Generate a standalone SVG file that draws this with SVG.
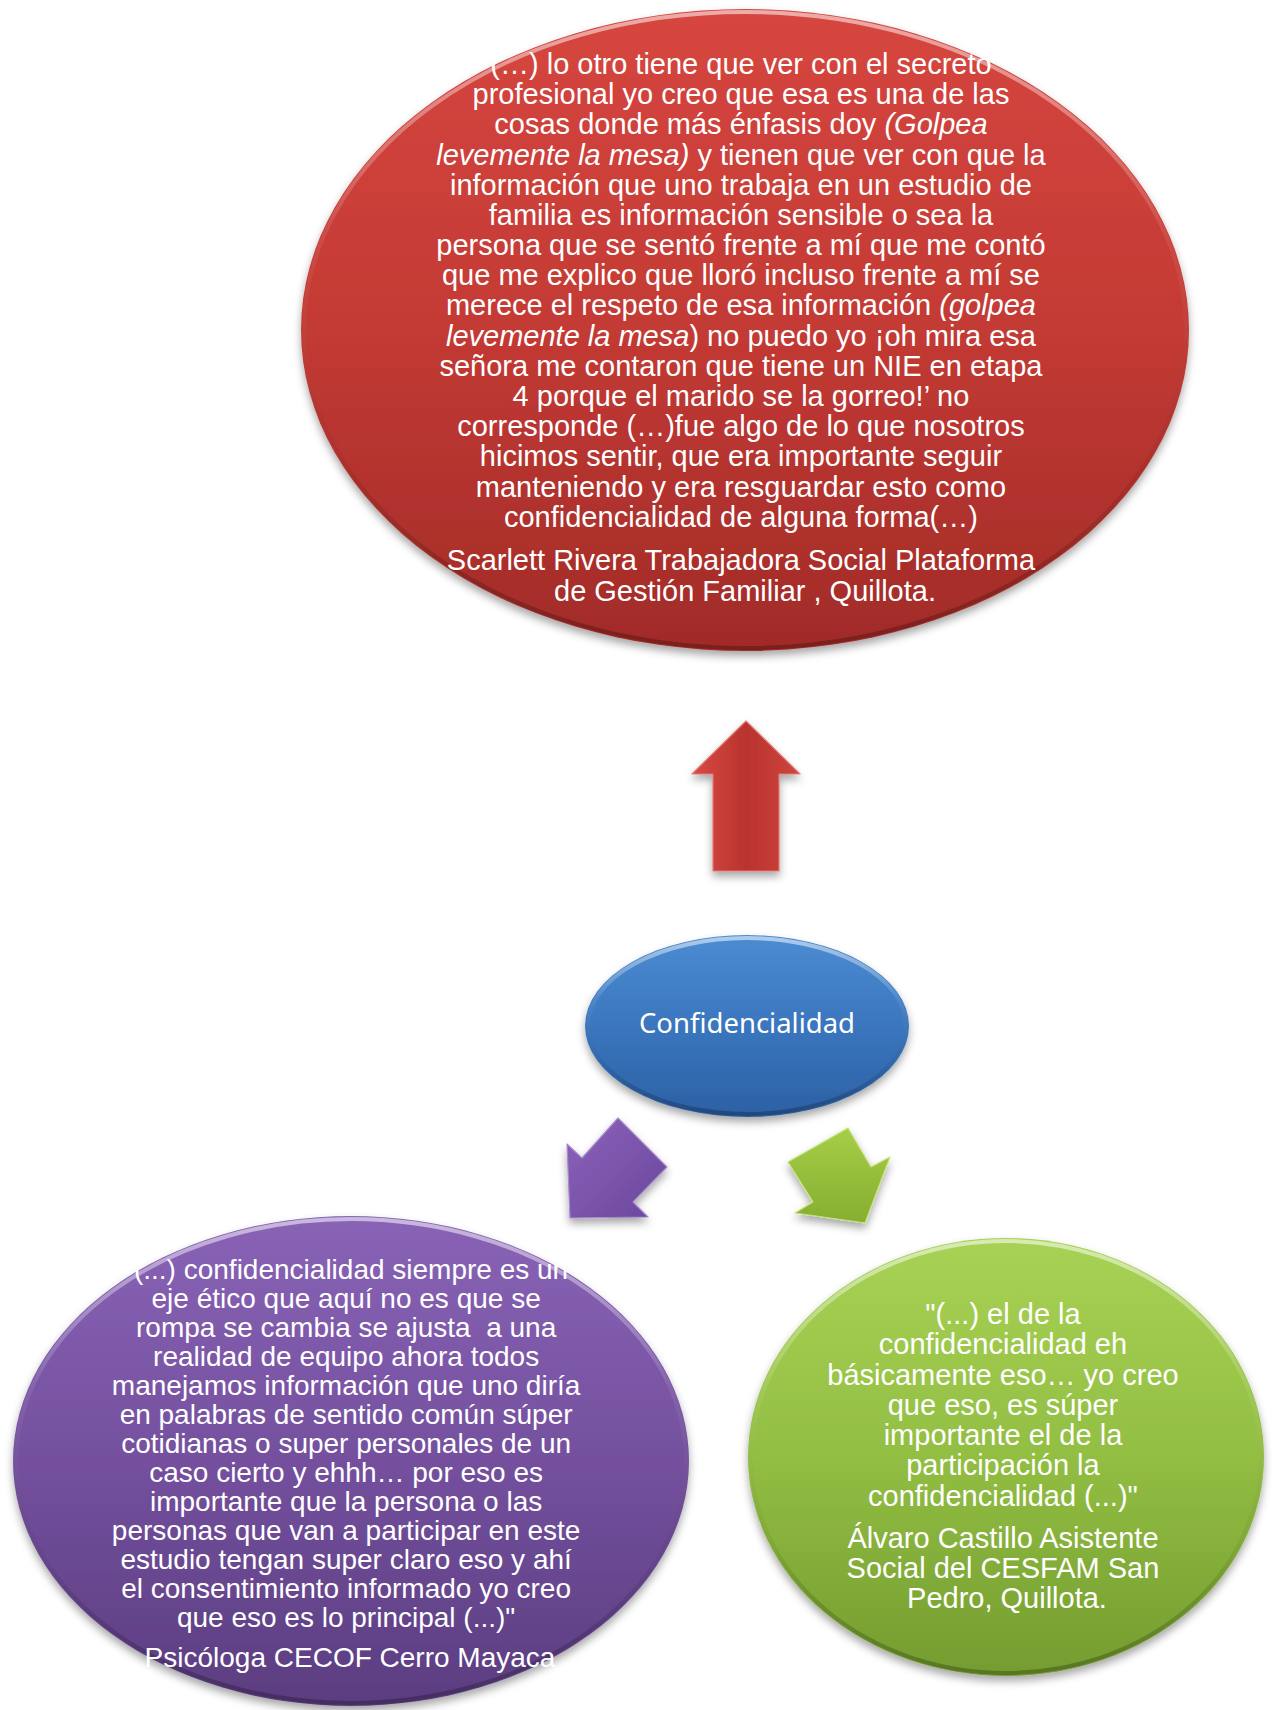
<svg xmlns="http://www.w3.org/2000/svg" width="1277" height="1710" viewBox="0 0 1277 1710">
<defs>
<style>
.t{font-family:"Liberation Sans",Arial,sans-serif;fill:#fff;text-anchor:middle;}
.r{font-size:29px;}
.p{font-size:28px;}
.g{font-size:29px;}
.i{font-style:italic;}
.c{font-family:"Noto Sans","Open Sans",sans-serif;font-size:28px;fill:#fff;text-anchor:middle;}
.rim{fill:none;stroke:url(#rimG);stroke-width:4;}
.arr{stroke-width:1.2;stroke-linejoin:round;}
</style>
<filter id="sh" x="-10%" y="-10%" width="120%" height="125%">
<feDropShadow dx="0" dy="5" stdDeviation="4" flood-color="#000" flood-opacity="0.35"/>
</filter>
<linearGradient id="redG" x1="0" y1="0" x2="0" y2="1">
<stop offset="0" stop-color="#D6463F"/><stop offset="0.5" stop-color="#C33A34"/><stop offset="1" stop-color="#A12B28"/>
</linearGradient>
<linearGradient id="blueG" x1="0" y1="0" x2="0" y2="1">
<stop offset="0" stop-color="#4B8CD2"/><stop offset="0.5" stop-color="#3A76BE"/><stop offset="1" stop-color="#2C60A4"/>
</linearGradient>
<linearGradient id="purG" x1="0" y1="0" x2="0" y2="1">
<stop offset="0" stop-color="#8963B6"/><stop offset="0.5" stop-color="#74509E"/><stop offset="1" stop-color="#5B3D80"/>
</linearGradient>
<linearGradient id="grnG" x1="0" y1="0" x2="0" y2="1">
<stop offset="0" stop-color="#A8D255"/><stop offset="0.5" stop-color="#92BE43"/><stop offset="1" stop-color="#749C2F"/>
</linearGradient>
<linearGradient id="rimG" x1="0" y1="0" x2="0" y2="1">
<stop offset="0" stop-color="#fff" stop-opacity="0.55"/><stop offset="0.35" stop-color="#fff" stop-opacity="0.08"/><stop offset="0.7" stop-color="#000" stop-opacity="0.05"/><stop offset="1" stop-color="#000" stop-opacity="0.25"/>
</linearGradient>
<linearGradient id="redA" x1="0" y1="0" x2="1" y2="0">
<stop offset="0" stop-color="#D84A42"/><stop offset="0.5" stop-color="#B9332F"/><stop offset="1" stop-color="#D0443E"/>
</linearGradient>
<linearGradient id="purA" x1="0" y1="0" x2="1" y2="1">
<stop offset="0" stop-color="#8C62BC"/><stop offset="1" stop-color="#6A479A"/>
</linearGradient>
<linearGradient id="grnA" x1="0" y1="0" x2="0" y2="1">
<stop offset="0" stop-color="#A6CE48"/><stop offset="1" stop-color="#86AE30"/>
</linearGradient>
</defs>
<rect width="1277" height="1710" fill="#fff"/>

<g id="connectors">
<polygon class="arr" filter="url(#sh)" fill="url(#redA)" stroke="#E07A72" points="746,721 800,774 779,774 779,871 713,871 713,774 692,774"/>
<polygon class="arr" filter="url(#sh)" fill="url(#purA)" stroke="#A88BD0" points="618,1118 667,1167 633,1202 648,1217 570,1218 567,1144 582,1158"/>
<polygon class="arr" filter="url(#sh)" fill="url(#grnA)" stroke="#C7E27F" points="848,1128 871,1167 890,1157 865,1223 795,1213 813,1202 788,1162"/>
</g>

<g id="node-red">
<ellipse cx="745" cy="330" rx="444" ry="321" fill="url(#redG)" filter="url(#sh)"/>
<ellipse class="rim" cx="745" cy="330" rx="441" ry="318"/>
<text class="t r" x="745">
<tspan x="745" y="74">(…) lo otro tiene que ver con el secreto</tspan>
<tspan x="745" y="104">profesional yo creo que esa es una de las</tspan>
<tspan x="745" y="134">cosas donde más énfasis doy <tspan class="i">(Golpea</tspan></tspan>
<tspan x="745" y="165"><tspan class="i">levemente la mesa)</tspan> y tienen que ver con que la</tspan>
<tspan x="745" y="195">información que uno trabaja en un estudio de</tspan>
<tspan x="745" y="225">familia es información sensible o sea la</tspan>
<tspan x="745" y="255">persona que se sentó frente a mí que me contó</tspan>
<tspan x="745" y="285">que me explico que lloró incluso frente a mí se</tspan>
<tspan x="745" y="315">merece el respeto de esa información <tspan class="i">(golpea</tspan></tspan>
<tspan x="745" y="346"><tspan class="i">levemente la mesa</tspan>) no puedo yo ¡oh mira esa</tspan>
<tspan x="745" y="376">señora me contaron que tiene un NIE en etapa</tspan>
<tspan x="745" y="406">4 porque el marido se la gorreo!’ no</tspan>
<tspan x="745" y="436">corresponde (…)fue algo de lo que nosotros</tspan>
<tspan x="745" y="466">hicimos sentir, que era importante seguir</tspan>
<tspan x="745" y="497">manteniendo y era resguardar esto como</tspan>
<tspan x="745" y="527">confidencialidad de alguna forma(…)</tspan>
<tspan x="745" y="570">Scarlett Rivera Trabajadora Social Plataforma</tspan>
<tspan x="745" y="601">de Gestión Familiar , Quillota.</tspan>
</text>
</g>

<g id="node-center">
<ellipse cx="747" cy="1026" rx="162" ry="91" fill="url(#blueG)" filter="url(#sh)"/>
<ellipse class="rim" cx="747" cy="1026" rx="159" ry="88"/>
<text class="c" x="747" y="1033" textLength="216" lengthAdjust="spacingAndGlyphs">Confidencialidad</text>
</g>

<g id="node-purple">
<ellipse cx="351" cy="1461" rx="338" ry="245" fill="url(#purG)" filter="url(#sh)"/>
<ellipse class="rim" cx="351" cy="1461" rx="335" ry="242"/>
<text class="t p" x="350">
<tspan x="350" y="1279">"(...) confidencialidad siempre es un</tspan>
<tspan x="350" y="1308">eje ético que aquí no es que se</tspan>
<tspan x="350" y="1337" xml:space="preserve">rompa se cambia se ajusta  a una</tspan>
<tspan x="350" y="1366">realidad de equipo ahora todos</tspan>
<tspan x="350" y="1395">manejamos información que uno diría</tspan>
<tspan x="350" y="1424">en palabras de sentido común súper</tspan>
<tspan x="350" y="1453">cotidianas o super personales de un</tspan>
<tspan x="350" y="1482">caso cierto y ehhh… por eso es</tspan>
<tspan x="350" y="1511">importante que la persona o las</tspan>
<tspan x="350" y="1540">personas que van a participar en este</tspan>
<tspan x="350" y="1569">estudio tengan super claro eso y ahí</tspan>
<tspan x="350" y="1598">el consentimiento informado yo creo</tspan>
<tspan x="350" y="1627">que eso es lo principal (...)"</tspan>
<tspan x="350" y="1667">Psicóloga CECOF Cerro Mayaca</tspan>
</text>
</g>

<g id="node-green">
<ellipse cx="1006" cy="1457" rx="258" ry="219" fill="url(#grnG)" filter="url(#sh)"/>
<ellipse class="rim" cx="1006" cy="1457" rx="255" ry="216"/>
<text class="t g" x="1007">
<tspan x="1007" y="1324">"(...) el de la</tspan>
<tspan x="1007" y="1354">confidencialidad eh</tspan>
<tspan x="1007" y="1385">básicamente eso… yo creo</tspan>
<tspan x="1007" y="1415">que eso, es súper</tspan>
<tspan x="1007" y="1445">importante el de la</tspan>
<tspan x="1007" y="1475">participación la</tspan>
<tspan x="1007" y="1506">confidencialidad (...)"</tspan>
<tspan x="1007" y="1548">Álvaro Castillo Asistente</tspan>
<tspan x="1007" y="1578">Social del CESFAM San</tspan>
<tspan x="1007" y="1608">Pedro, Quillota.</tspan>
</text>
</g>
</svg>
